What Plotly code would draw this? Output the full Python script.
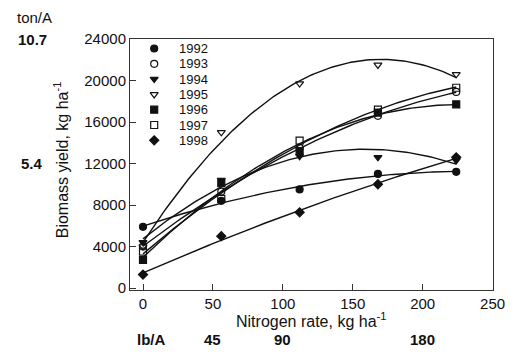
import numpy as np
import plotly.graph_objects as go

# ---- data ----
n_rate = [0, 56, 112, 168, 224]
years = ["1992", "1993", "1994", "1995", "1996", "1997", "1998"]
y1992 = [5900, 8400, 9500, 11000, 11200]
y1993 = [4000, 9300, 13500, 16600, 18900]
y1994 = [4400, 10400, 12700, 12600, 12300]
y1995 = [4000, 15000, 19700, 21500, 20600]
y1996 = [2700, 10100, 13200, 16900, 17700]
y1997 = [3500, 8600, 14200, 17200, 19300]
y1998 = [1300, 5000, 7300, 10000, 12600]
series = [y1992, y1993, y1994, y1995, y1996, y1997, y1998]
symbols = ["circle", "circle-open", "triangle-down", "triangle-down-open",
           "square", "square-open", "diamond"]

x_ticks = [0, 50, 100, 150, 200, 250]
y_ticks = [0, 4000, 8000, 12000, 16000, 20000, 24000]
lb_ticks_kg = [50, 100, 200]
lb_labels = ["45", "90", "180"]
ton_vals = [24000, 12000]
ton_labels = ["10.7", "5.4"]

FONT = "Liberation Sans, Arial, sans-serif"
INK = "#111111"
FRAME = "#333333"

# page body has an 8px margin: figure is drawn at (8,8)
OFF = 8
W, H = 517 - OFF, 354 - OFF
L, R, T, B = 130 - OFF, 12, 39 - OFF, 64
PW, PH = W - L - R, H - T - B
XR = [-9.3, 250.3]
YR = [-190, 24000]


def px_x(x):  # page pixel -> paper x
    return (x - OFF - L) / PW


def px_y(y):  # page pixel -> paper y
    return (H - B - (y - OFF)) / PH


def dx(px):  # page pixel -> data x
    return XR[0] + px_x(px) * (XR[1] - XR[0])


def dy(py):  # page pixel -> data y
    return YR[0] + px_y(py) * (YR[1] - YR[0])


fig = go.Figure()
xs = np.linspace(0, 224, 120)
for vals in series:
    c = np.polyfit(n_rate, vals, 2)
    fig.add_trace(go.Scatter(x=xs.tolist(), y=np.polyval(c, xs).tolist(), mode="lines",
                             line=dict(color=INK, width=1.4),
                             showlegend=False, hoverinfo="skip"))
for name, vals, sym in zip(years, series, symbols):
    fig.add_trace(go.Scatter(x=n_rate, y=vals, mode="markers", name=name, showlegend=False,
                             marker=dict(symbol=sym, size=7, color=INK,
                                         line=dict(color=INK, width=1.2))))

# custom legend (compact rows like the reference)
leg_rows = [48.5 + 15.3 * i for i in range(len(years))]
for i, sym in enumerate(symbols):
    fig.add_trace(go.Scatter(x=[dx(155)], y=[dy(leg_rows[i])],
                             mode="markers", showlegend=False, hoverinfo="skip",
                             marker=dict(symbol=sym, size=7, color=INK,
                                         line=dict(color=INK, width=1.2))))

axis_common = dict(showline=True, linecolor=FRAME, linewidth=1, mirror=True,
                   ticks="inside", ticklen=6, tickcolor=FRAME, tickwidth=1,
                   tickfont=dict(family=FONT, size=15, color=INK),
                   ticklabeloverflow="allow")
fig.update_xaxes(range=XR, tickvals=x_ticks, showgrid=False, zeroline=False, **axis_common)
fig.update_yaxes(range=YR, tickvals=y_ticks, tickformat="d", showgrid=False, zeroline=False,
                 ticksuffix="\u00a0", **axis_common)

ann = []
for i, yr in enumerate(years):
    ann.append(dict(text=yr, xref="paper", yref="paper", x=px_x(179), y=px_y(leg_rows[i]),
                    showarrow=False, xanchor="left", yanchor="middle",
                    font=dict(family=FONT, size=13, color=INK)))
ann.append(dict(text="Nitrogen rate, kg ha<sup>-1</sup>", xref="paper", yref="paper",
                x=px_x(317), y=px_y(320), showarrow=False,
                font=dict(family=FONT, size=16, color=INK), xanchor="center", yanchor="middle"))
ann.append(dict(text="Biomass yield, kg ha<sup>-1</sup>", xref="paper", yref="paper",
                x=px_x(59), y=px_y(160), showarrow=False, textangle=-90,
                font=dict(family=FONT, size=16, color=INK), xanchor="center", yanchor="middle"))
ann.append(dict(text="ton/A", xref="paper", yref="paper", x=px_x(31),
                y=px_y(17), showarrow=False, xanchor="center", yanchor="middle",
                font=dict(family=FONT, size=15, color=INK)))
for v, t in zip(ton_vals, ton_labels):
    ann.append(dict(text="<b>%s</b>" % t, xref="paper", yref="y", x=px_x(29), y=v,
                    showarrow=False, xanchor="center", yanchor="middle",
                    font=dict(family=FONT, size=15, color=INK)))
ann.append(dict(text="<b>lb/A</b>", xref="paper", yref="paper", x=px_x(152),
                y=px_y(339), showarrow=False, xanchor="center", yanchor="middle",
                font=dict(family=FONT, size=15, color=INK)))
for v, t in zip(lb_ticks_kg, lb_labels):
    ann.append(dict(text="<b>%s</b>" % t, xref="x", yref="paper", x=v,
                    y=px_y(339), showarrow=False, xanchor="center", yanchor="middle",
                    font=dict(family=FONT, size=15, color=INK)))

fig.update_layout(
    width=W, height=H,
    margin=dict(l=L, r=R, t=T, b=B),
    paper_bgcolor="white", plot_bgcolor="white",
    annotations=ann,
    showlegend=False,
    font=dict(family=FONT),
)
fig.write_html("out.html")
